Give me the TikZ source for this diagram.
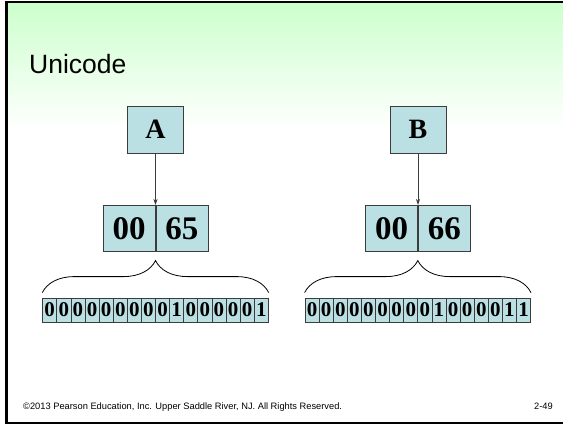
\documentclass[tikz,border=0pt]{standalone}
\usepackage{fontspec}
\setmainfont{Liberation Serif}
\setsansfont{Liberation Sans}
\usetikzlibrary{positioning, arrows.meta, decorations.pathreplacing}

\definecolor{slidegreen}{RGB}{204,255,204}
\definecolor{cellfill}{RGB}{187,224,227}
\definecolor{cellline}{RGB}{60,60,60}

\tikzset{
	charbox/.style={draw=cellline, fill=cellfill, line width=0.8pt, minimum width=56pt, minimum height=47pt, inner sep=0pt, font=\fontsize{28}{28}\selectfont\bfseries},
	bytebox/.style={draw=cellline, fill=cellfill, line width=0.8pt, minimum width=52pt, minimum height=46pt, inner sep=0pt, font=\fontsize{33}{33}\selectfont\bfseries},
	bitbox/.style={draw=cellline, fill=cellfill, line width=0.8pt, minimum width=14.1pt, minimum height=24pt, inner sep=0pt, font=\fontsize{21}{21}\selectfont\bfseries},
	bitbrace/.style={decorate, decoration={brace, amplitude=32pt, raise=5pt}, line width=0.8pt},
}

\begin{document}
\begin{tikzpicture}[x=1pt, y=-1pt]
	\useasboundingbox (0,0) rectangle (563,424);
	\fill[white] (0,0) rectangle (563,424);
	\shade[top color=slidegreen, bottom color=white] (6,3) rectangle (563,130); % Kopfverlauf
	\draw[line width=2.5pt] (563,2) -- (6.5,2) -- (6.5,423) -- (563,423); % Rahmen
	
	\node[anchor=base west, inner sep=0pt, font=\sffamily\fontsize{26.5}{26.5}\selectfont] (title) at (29,73) {Unicode};
	
	% Zeichen A
	\node[charbox] (chA) at (155.5,129.5) {A};
	\node[bytebox, anchor=north east] (hiA) at (155.5,205) {00};
	\node[bytebox, right=0pt of hiA] (loA) {65};
	\draw[-{Stealth[length=6pt,width=4pt]}, cellline, line width=0.8pt] (chA.south) -- (hiA.north east);
	\foreach \b [count=\i] in {0,0,0,0,0,0,0,0,0,1,0,0,0,0,0,1} {
		\node[bitbox] (bA\i) at ({42.7+14.1*(\i-0.5)},310) {\b};
	}
	\draw[bitbrace] (bA1.north west) -- (bA16.north east);
	
	% Zeichen B
	\node[charbox] (chB) at (418,129.5) {B};
	\node[bytebox, anchor=north east] (hiB) at (418,205) {00};
	\node[bytebox, right=0pt of hiB] (loB) {66};
	\draw[-{Stealth[length=6pt,width=4pt]}, cellline, line width=0.8pt] (chB.south) -- (hiB.north east);
	\foreach \b [count=\i] in {0,0,0,0,0,0,0,0,0,1,0,0,0,0,1,1} {
		\node[bitbox] (bB\i) at ({305+14.1*(\i-0.5)},310) {\b};
	}
	\draw[bitbrace] (bB1.north west) -- (bB16.north east);
	
	\node[anchor=base west, inner sep=0pt, font=\sffamily\fontsize{9.3}{9.3}\selectfont] (copy) at (23,409) {©2013 Pearson Education, Inc. Upper Saddle River, NJ. All Rights Reserved.};
	\node[anchor=base east, inner sep=0pt, font=\sffamily\fontsize{9.3}{9.3}\selectfont] (page) at (553,409) {2-49};
\end{tikzpicture}
\end{document}
